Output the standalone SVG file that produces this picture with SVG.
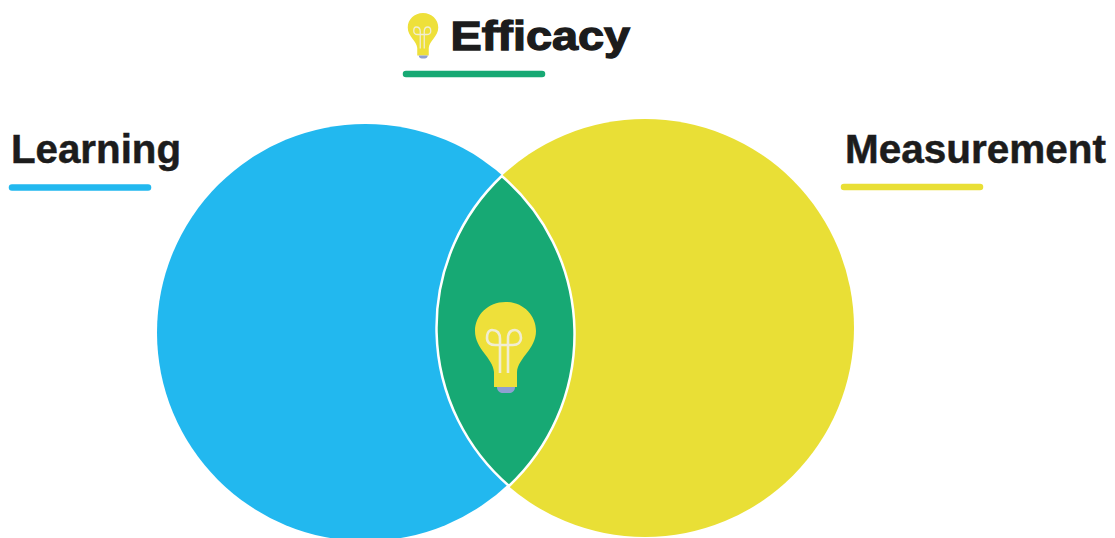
<svg xmlns="http://www.w3.org/2000/svg" width="1115" height="538" viewBox="0 0 1115 538">
<style>
.label{font-family:"Liberation Sans",Arial,sans-serif;font-weight:700;font-size:40px;fill:#1c1c1c;stroke:#1c1c1c;stroke-width:.5}
.bar{stroke-width:6.5;stroke-linecap:round;fill:none}
.fil{fill:none;stroke:#f1edd2;stroke-width:2.6}
</style>
<defs>
<g id="bulb">
<path d="M505.500 302C488 302 475 315 475 331C475 349 493 358 494 372V387H517V372C518 358 536 349 536 331C536 315 523 302 505.500 302Z" fill="#eee03a"/>
<path d="M497 387H515C515 391 512 393 509 393H503C500 393 497 391 497 387Z" fill="#8f9fd2"/>
<path class="fil" d="M500 373V339C500 333 497 330 492 330C488 330 487 335 487 338C487 343 491 345 495 345H513C518 345 521 342 521 338C521 333 518 330 515 330C510 330 508 333 508 339V373"/>
</g>
</defs>
<g id="learning-circle"><circle cx="365.500" cy="332.500" r="208.500" fill="#22b8ef"/></g>
<g id="measurement-circle"><circle cx="645" cy="328" r="209" fill="#e9df36"/></g>
<g id="efficacy-lens">
<path d="M501.800 176A208.500 208.500 0 0 1 509 486A209 209 0 0 1 501.800 176Z" fill="#17a974" stroke="#fff" stroke-width="2.500"/>
<use href="#bulb"/>
</g>
<g id="efficacy-label">
<use href="#bulb" transform="translate(170.250 -138) scale(0.5)"/>
<text class="label" x="450.500" y="50" font-size="41" textLength="179.500" lengthAdjust="spacingAndGlyphs" style="stroke-width:1.300;font-size:41px">Efficacy</text>
<line class="bar" x1="406" y1="74" x2="542" y2="74" stroke="#17a974"/>
</g>
<g id="learning-label">
<text class="label" x="11" y="163" textLength="170" lengthAdjust="spacingAndGlyphs">Learning</text>
<line class="bar" x1="12" y1="187.500" x2="148" y2="187.500" stroke="#22b8ef"/>
</g>
<g id="measurement-label">
<text class="label" x="845" y="163" textLength="261" lengthAdjust="spacingAndGlyphs">Measurement</text>
<line class="bar" x1="844" y1="187" x2="980" y2="187" stroke="#e9df36"/>
</g>
<g id="connectors"/>
</svg>
